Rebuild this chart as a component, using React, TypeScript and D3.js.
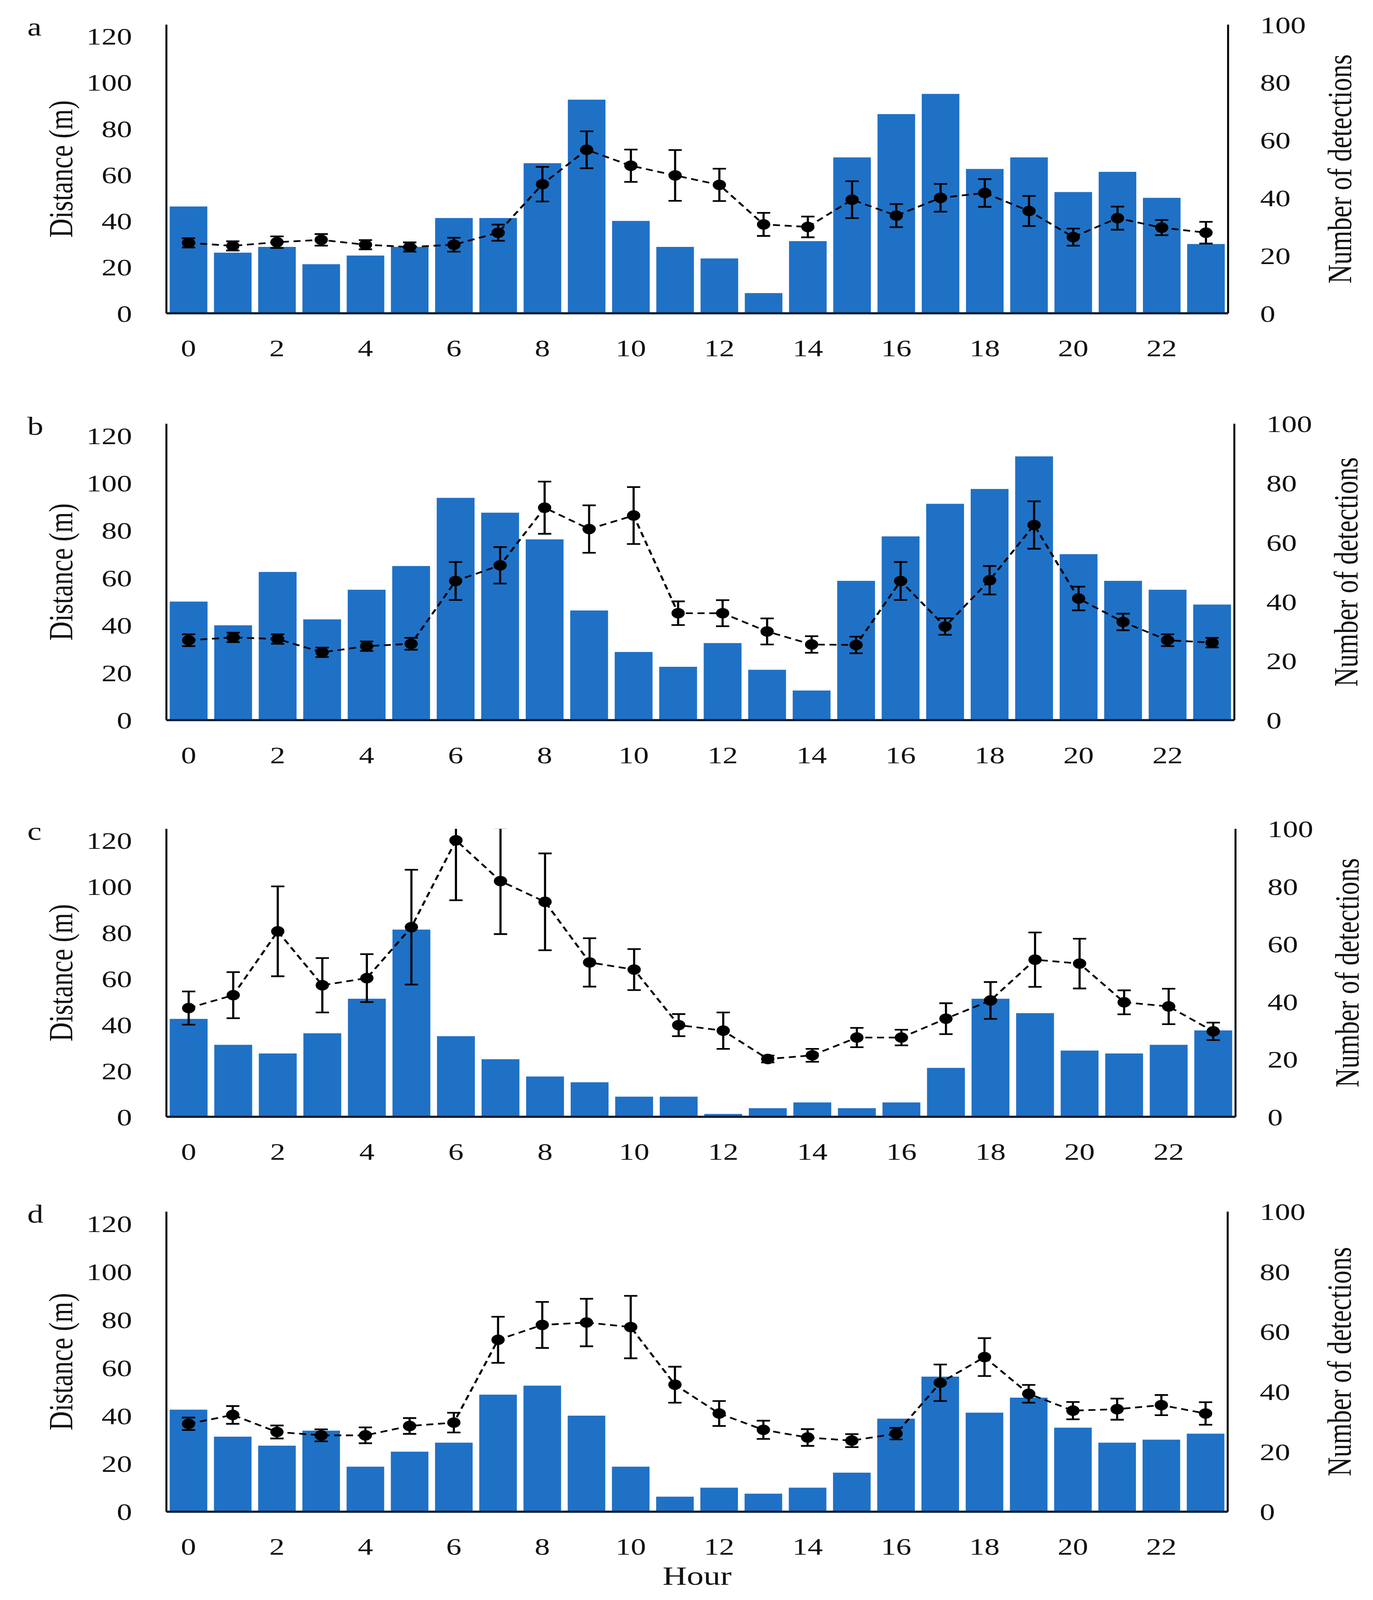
import * as d3 from "d3";

// hour of day (categories)
const hours = [0, 1, 2, 3, 4, 5, 6, 7, 8, 9, 10, 11, 12, 13, 14, 15, 16, 17, 18, 19, 20, 21, 22, 23];
const hourTicks = [0, 2, 4, 6, 8, 10, 12, 14, 16, 18, 20, 22];
const distanceTicks = [0, 20, 40, 60, 80, 100, 120];
const detectionTicks = [0, 20, 40, 60, 80, 100];
const panelLabels = ["a", "b", "c", "d"];

// bars: number of detections (right axis)
const detectionsA = [37, 21, 23, 17, 20, 23, 33, 33, 52, 74, 32, 23, 19, 7, 25, 54, 69, 76, 50, 54, 42, 49, 40, 24];
const detectionsB = [40, 32, 50, 34, 44, 52, 75, 70, 61, 37, 23, 18, 26, 17, 10, 47, 62, 73, 78, 89, 56, 47, 44, 39];
const detectionsC = [34, 25, 22, 29, 41, 65, 28, 20, 14, 12, 7, 7, 1, 3, 5, 3, 5, 17, 41, 36, 23, 22, 25, 30];
const detectionsD = [34, 25, 22, 27, 15, 20, 23, 39, 42, 32, 15, 5, 8, 6, 8, 13, 31, 45, 33, 38, 28, 23, 24, 26];

// line: mean distance (left axis) and error
const distanceA = [30.5, 29.2, 30.8, 31.8, 29.7, 28.7, 29.7, 34.9, 55.9, 70.8, 63.9, 59.7, 55.6, 38.5, 37.4, 49.2, 42.3, 50, 52.1, 44.3, 33, 41.2, 37.1, 34.9];
const errorA = [2, 2, 2.5, 2.5, 2, 2, 3, 3.5, 7.5, 8, 7, 11, 7, 5, 4.5, 8, 5, 6, 6, 6.5, 3.7, 5, 3.3, 4.7];
const distanceB = [33.7, 34.9, 34.2, 28.6, 31.2, 32.2, 58.7, 65.3, 89.6, 80.6, 86.3, 45.1, 45.1, 37.4, 31.9, 31.7, 58.7, 39.5, 59, 82.3, 51.3, 41.4, 33.7, 32.7];
const errorB = [2.5, 2, 2, 2, 2, 2.5, 8, 7.7, 11, 10, 12, 5, 5.5, 5.5, 3.5, 3.5, 8, 3.5, 6, 10, 5, 3.5, 2.5, 2];
const distanceC = [47.2, 52.8, 80.5, 57.1, 60.2, 82.3, 120, 102.3, 93.3, 67, 63.9, 39.8, 37.4, 25.1, 26.7, 34.4, 34.4, 42.6, 50.5, 68.2, 66.5, 49.7, 47.9, 37.1];
const errorC = [7.2, 10, 19.5, 11.8, 10.4, 24.9, 26, 23, 21, 10.5, 8.9, 4.8, 7.9, 1.5, 2.8, 4.2, 3.4, 6.7, 8, 11.8, 10.8, 5.2, 7.7, 3.8];
const distanceD = [36.6, 40.3, 33.2, 31.8, 31.8, 35.7, 37.1, 71.6, 77.8, 78.8, 76.9, 52.9, 40.9, 34.1, 30.9, 29.6, 32.5, 53.7, 64.4, 49.1, 42.1, 42.7, 44.4, 40.9];
const errorD = [2.6, 3.7, 2.7, 2.5, 3.3, 3.3, 4.1, 9.6, 9.6, 9.9, 13, 7.5, 5.2, 3.8, 3.5, 2.7, 2.4, 7.6, 7.9, 3.7, 3.6, 4.4, 4.2, 4.7];

const WIDTH = 3515;
const HEIGHT = 5199;
const FONT = "'Palatino Linotype', 'Book Antiqua', Palatino, 'Liberation Serif', serif";
const BAR_COLOR = "#1f71c6";
const TICK_SIZE = 78;
const TITLE_SIZE = 86;

// plot frames, in page pixels
const frames = [
  { top: 80, bottom: 1018, left: 426, right: 3144 },
  { top: 1377, bottom: 2340, left: 426, right: 3160 },
  { top: 2693, bottom: 3629, left: 426, right: 3163 },
  { top: 3937, bottom: 4912, left: 426, right: 3143 },
];

interface PanelProps {
  index: number;
  detections: number[];
  distance: number[];
  error: number[];
}

function Panel({ index, detections, distance, error }: PanelProps) {
  const f = frames[index];
  const x = d3
    .scaleBand<number>()
    .domain(hours)
    .range([f.left, f.right])
    .paddingInner(0.15)
    .paddingOuter(0.075);
  const yLeft = d3.scaleLinear().domain([0, 125]).range([f.bottom, f.top]);
  const yRight = d3.scaleLinear().domain([0, 100]).range([f.bottom, f.top]);
  const cx = (h: number) => (x(h) ?? 0) + x.bandwidth() / 2;

  const line = d3
    .line<number>()
    .x((_, i) => cx(hours[i]))
    .y((d) => yLeft(d));

  const clipId = `clip-${index}`;
  const midY = (f.top + f.bottom) / 2;

  return (
    <g>
      <defs>
        <clipPath id={clipId}>
          <rect x={f.left} y={f.top} width={f.right - f.left} height={f.bottom - f.top} />
        </clipPath>
      </defs>

      {/* bars */}
      {detections.map((d, i) => (
        <rect
          key={`b${i}`}
          x={x(hours[i])}
          y={yRight(d)}
          width={x.bandwidth()}
          height={f.bottom - yRight(d)}
          fill={BAR_COLOR}
        />
      ))}

      {/* axes */}
      <line x1={f.left} x2={f.left} y1={f.top} y2={f.bottom} stroke="#000" strokeWidth={5} />
      <line x1={f.right} x2={f.right} y1={f.top} y2={f.bottom} stroke="#000" strokeWidth={5} />
      <line x1={f.left} x2={f.right} y1={f.bottom} y2={f.bottom} stroke="#0d1b2e" strokeWidth={7} />

      {/* distance line with error bars */}
      <g clipPath={`url(#${clipId})`}>
        <path d={line(distance) ?? ""} fill="none" stroke="#000" strokeWidth={5.5} strokeDasharray="18 12" />
        {distance.map((d, i) => {
          const px = cx(hours[i]);
          const hi = yLeft(d + error[i]);
          const lo = yLeft(d - error[i]);
          return (
            <g key={`e${i}`} stroke="#000" strokeWidth={5.5}>
              <line x1={px} x2={px} y1={hi} y2={lo} />
              <line x1={px - 17} x2={px + 17} y1={hi} y2={hi} />
              <line x1={px - 17} x2={px + 17} y1={lo} y2={lo} />
            </g>
          );
        })}
        {distance.map((d, i) => (
          <circle key={`m${i}`} cx={cx(hours[i])} cy={yLeft(d)} r={17} fill="#000" />
        ))}
      </g>

      {/* left ticks */}
      {distanceTicks.map((t) => (
        <text
          key={`l${t}`}
          x={f.left - 88}
          y={yLeft(t)}
          dy="0.35em"
          textAnchor="end"
          fontSize={TICK_SIZE}
          fontFamily={FONT}
          fill="#111"
        >
          {t}
        </text>
      ))}

      {/* right ticks */}
      {detectionTicks.map((t) => (
        <text
          key={`r${t}`}
          x={f.right + 82}
          y={yRight(t)}
          dy="0.35em"
          textAnchor="start"
          fontSize={TICK_SIZE}
          fontFamily={FONT}
          fill="#111"
        >
          {t}
        </text>
      ))}

      {/* hour ticks */}
      {hourTicks.map((h) => (
        <text
          key={`h${h}`}
          x={cx(h)}
          y={f.bottom + 140}
          textAnchor="middle"
          fontSize={TICK_SIZE}
          fontFamily={FONT}
          fill="#111"
        >
          {h}
        </text>
      ))}

      {/* axis titles */}
      <text
        transform={`translate(${155},${midY}) rotate(-90)`}
        textAnchor="middle"
        dy="0.35em"
        fontSize={TITLE_SIZE}
        fontFamily={FONT}
        fill="#111"
      >
        Distance (m)
      </text>
      <text
        transform={`translate(${f.right + 285},${midY}) rotate(-90)`}
        textAnchor="middle"
        dy="0.35em"
        fontSize={TITLE_SIZE}
        fontFamily={FONT}
        fill="#111"
      >
        Number of detections
      </text>

      {/* panel letter */}
      <text x={70} y={f.top + 36} fontSize={82} fontFamily={FONT} fill="#111">
        {panelLabels[index]}
      </text>
    </g>
  );
}

export default function App() {
  const bottomFrame = frames[3];
  // the page viewport can be shorter than the figure, so the whole figure is
  // fitted into it through the viewBox
  return (
    <svg
      viewBox={`0 0 ${WIDTH} ${HEIGHT}`}
      preserveAspectRatio="none"
      style={{ position: "fixed", left: 0, top: 0, width: "100vw", height: "100vh", background: "#fff" }}
    >
      <rect width={WIDTH} height={HEIGHT} fill="#fff" />
      <Panel index={0} detections={detectionsA} distance={distanceA} error={errorA} />
      <Panel index={1} detections={detectionsB} distance={distanceB} error={errorB} />
      <Panel index={2} detections={detectionsC} distance={distanceC} error={errorC} />
      <Panel index={3} detections={detectionsD} distance={distanceD} error={errorD} />
      <text
        x={(bottomFrame.left + bottomFrame.right) / 2}
        y={5150}
        textAnchor="middle"
        fontSize={TITLE_SIZE}
        fontFamily={FONT}
        fill="#111"
      >
        Hour
      </text>
    </svg>
  );
}
